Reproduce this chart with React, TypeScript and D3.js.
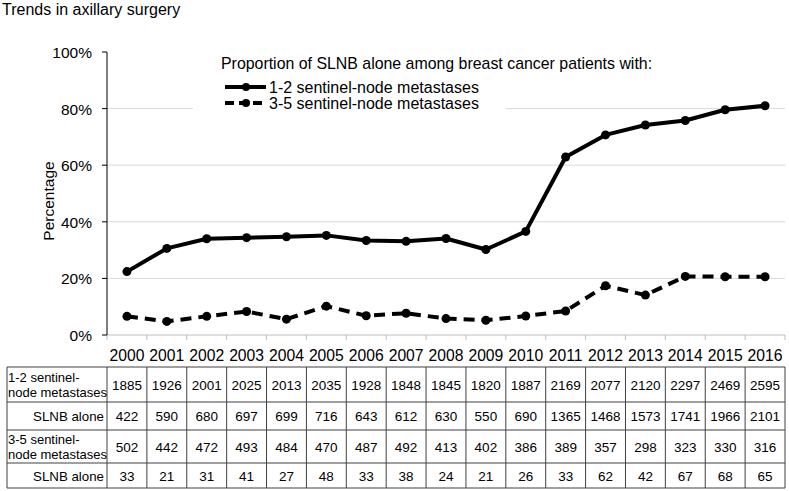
import React, { useRef, useEffect } from 'react';
import * as d3 from 'd3';

const years = ['2000', '2001', '2002', '2003', '2004', '2005', '2006', '2007', '2008', '2009', '2010', '2011', '2012', '2013', '2014', '2015', '2016'];

// percentage of SLNB alone
const pct12 = [22.4, 30.6, 34.0, 34.4, 34.7, 35.2, 33.4, 33.1, 34.1, 30.2, 36.6, 62.9, 70.7, 74.2, 75.8, 79.6, 81.0];
const pct35 = [6.6, 4.8, 6.6, 8.3, 5.6, 10.2, 6.8, 7.7, 5.8, 5.2, 6.7, 8.5, 17.4, 14.1, 20.7, 20.6, 20.6];

// table counts
const n12 = [1885, 1926, 2001, 2025, 2013, 2035, 1928, 1848, 1845, 1820, 1887, 2169, 2077, 2120, 2297, 2469, 2595];
const slnb12 = [422, 590, 680, 697, 699, 716, 643, 612, 630, 550, 690, 1365, 1468, 1573, 1741, 1966, 2101];
const n35 = [502, 442, 472, 493, 484, 470, 487, 492, 413, 402, 386, 389, 357, 298, 323, 330, 316];
const slnb35 = [33, 21, 31, 41, 27, 48, 33, 38, 24, 21, 26, 33, 62, 42, 67, 68, 65];

const yTicks = [0, 20, 40, 60, 80, 100];

const seriesNames = ['1-2 sentinel-node metastases', '3-5 sentinel-node metastases'];
const rowLabels = [
  ['1-2 sentinel-', 'node metastases'],
  ['SLNB alone'],
  ['3-5 sentinel-', 'node metastases'],
  ['SLNB alone'],
];

export default function App() {
  const ref = useRef<SVGSVGElement>(null);

  useEffect(() => {
    const svg = d3.select(ref.current);
    svg.selectAll('*').remove();

    const W = 789;
    const H = 491;
    const font = '"Liberation Sans", Arial, sans-serif';
    svg.attr('width', W).attr('height', H).style('font-family', font);

    const left = 107;
    const right = 785;
    const x = d3.scaleBand().domain(years).range([left, right]).padding(0);
    const y = d3.scaleLinear().domain([0, 100]).range([335, 52]);

    // title
    svg.append('text').attr('x', 2).attr('y', 15).attr('font-size', 16).attr('fill', '#000')
      .text('Trends in axillary surgery');

    // gridlines
    svg.append('g').selectAll('line')
      .data(yTicks.filter(d => d > 0 && d < 100))
      .join('line')
      .attr('x1', left).attr('x2', right)
      .attr('y1', d => y(d)).attr('y2', d => y(d))
      .attr('stroke', '#d9d9d9').attr('stroke-width', 1);

    // x axis
    const xAxis = svg.append('g').attr('transform', `translate(0,${y(0)})`);
    xAxis.append('line').attr('x1', left).attr('x2', right).attr('stroke', '#bfbfbf');
    xAxis.selectAll('.xt')
      .data(years.concat(['end']))
      .join('line')
      .attr('class', 'xt')
      .attr('x1', (d, i) => left + i * x.bandwidth())
      .attr('x2', (d, i) => left + i * x.bandwidth())
      .attr('y1', 0).attr('y2', 5)
      .attr('stroke', '#bfbfbf');
    xAxis.selectAll('text')
      .data(years)
      .join('text')
      .attr('x', d => (x(d) as number) + x.bandwidth() / 2)
      .attr('y', 26)
      .attr('text-anchor', 'middle')
      .attr('font-size', 15.7)
      .attr('fill', '#000')
      .text(d => d);

    // y axis
    const yAxis = svg.append('g').attr('transform', `translate(${left},0)`);
    yAxis.append('line').attr('y1', y(0)).attr('y2', y(100)).attr('stroke', '#000');
    yAxis.selectAll('.yt')
      .data(yTicks)
      .join('line')
      .attr('class', 'yt')
      .attr('x1', -5).attr('x2', 0)
      .attr('y1', d => y(d)).attr('y2', d => y(d))
      .attr('stroke', '#000');
    yAxis.selectAll('text')
      .data(yTicks)
      .join('text')
      .attr('x', -15)
      .attr('y', d => y(d) + 6)
      .attr('text-anchor', 'end')
      .attr('font-size', 15.5)
      .attr('fill', '#000')
      .text(d => `${d}%`);

    svg.append('text')
      .attr('transform', 'translate(54,201) rotate(-90)')
      .attr('text-anchor', 'middle')
      .attr('font-size', 15.5)
      .attr('fill', '#000')
      .text('Percentage');

    // legend (white box hides gridline)
    svg.append('rect').attr('x', 193).attr('y', 56).attr('width', 313).attr('height', 58).attr('fill', '#fff');
    svg.append('text').attr('x', 221).attr('y', 69).attr('font-size', 15.9).attr('fill', '#000')
      .text('Proportion of SLNB alone among breast cancer patients with:');
    seriesNames.forEach((name, i) => {
      const ly = 87 + i * 16;
      svg.append('line')
        .attr('x1', 225).attr('x2', 266).attr('y1', ly).attr('y2', ly)
        .attr('stroke', '#000').attr('stroke-width', 4)
        .attr('stroke-dasharray', i === 1 ? '9,5' : null);
      svg.append('circle').attr('cx', 246).attr('cy', ly).attr('r', 4).attr('fill', '#000');
      svg.append('text').attr('x', 269).attr('y', ly + 6).attr('font-size', 16).attr('fill', '#000').text(name);
    });

    // series
    const cx = (i: number) => (x(years[i]) as number) + x.bandwidth() / 2;
    const line = d3.line<number>().x((d, i) => cx(i)).y(d => y(d));
    [pct12, pct35].forEach((vals, s) => {
      svg.append('path')
        .datum(vals)
        .attr('d', line)
        .attr('fill', 'none')
        .attr('stroke', '#000')
        .attr('stroke-width', 4)
        .attr('stroke-linejoin', 'round')
        .attr('stroke-dasharray', s === 1 ? '11,7' : null);
      svg.append('g').selectAll('circle')
        .data(vals)
        .join('circle')
        .attr('cx', (d, i) => cx(i))
        .attr('cy', d => y(d))
        .attr('r', 4.5)
        .attr('fill', '#000');
    });

    // data table
    const rowEdges = [367, 402, 430, 463, 488];
    const tableLeft = 7;
    const rows = [n12, slnb12, n35, slnb35];
    const tbl = svg.append('g');
    rowEdges.forEach(ry => {
      tbl.append('line').attr('x1', tableLeft).attr('x2', right).attr('y1', ry).attr('y2', ry)
        .attr('stroke', '#404040');
    });
    [tableLeft, ...years.map(d => x(d) as number), right].forEach(cxv => {
      tbl.append('line').attr('x1', cxv).attr('x2', cxv).attr('y1', rowEdges[0]).attr('y2', rowEdges[4])
        .attr('stroke', '#404040');
    });
    rows.forEach((vals, r) => {
      const mid = (rowEdges[r] + rowEdges[r + 1]) / 2;
      tbl.append('g').selectAll('text')
        .data(vals)
        .join('text')
        .attr('x', (d, i) => cx(i))
        .attr('y', mid + 5)
        .attr('text-anchor', 'middle')
        .attr('font-size', 13.5)
        .attr('fill', '#000')
        .text(d => d);
      const lab = rowLabels[r];
      if (lab.length === 2) {
        lab.forEach((t, k) => {
          tbl.append('text').attr('x', tableLeft + 1).attr('y', mid - 3 + k * 15)
            .attr('font-size', 13).attr('fill', '#000').text(t);
        });
      } else {
        tbl.append('text').attr('x', left - 3).attr('y', mid + 5).attr('text-anchor', 'end')
          .attr('font-size', 13.3).attr('fill', '#000').text(lab[0]);
      }
    });
  }, []);

  return <svg ref={ref} style={{ position: 'absolute', left: 0, top: 0 }} />;
}
